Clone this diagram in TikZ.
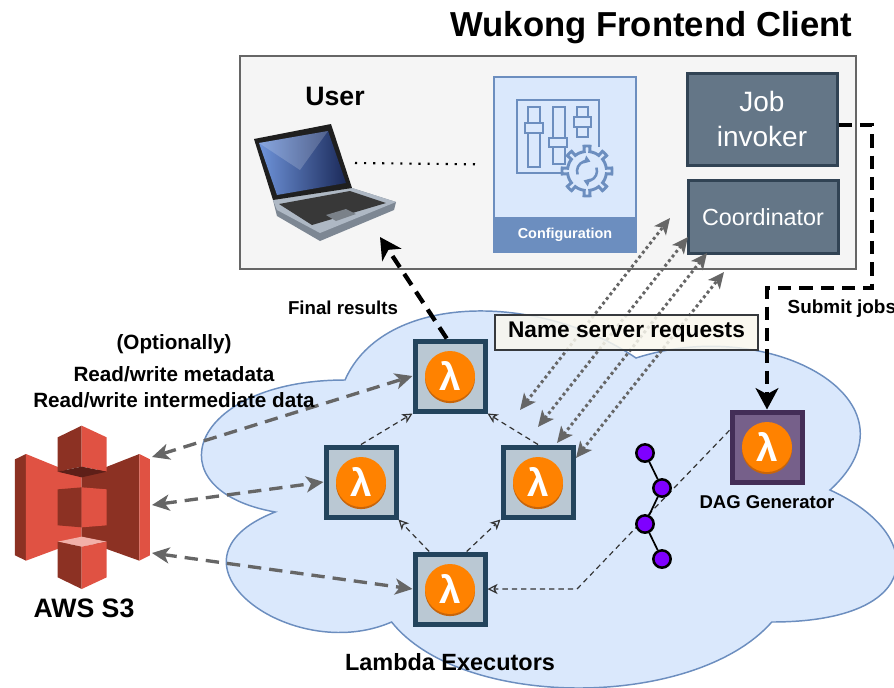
\documentclass[tikz,border=0pt]{standalone}
\usepackage{fontspec}
\setmainfont{Liberation Sans}
\newfontfamily\lamfam{Liberation Sans}
\usetikzlibrary{arrows.meta,shadows}

\definecolor{frontfill}{HTML}{F5F5F5}
\definecolor{frontline}{HTML}{666666}
\definecolor{cfgfill}{HTML}{DAE8FC}
\definecolor{cfgline}{HTML}{6C8EBF}
\definecolor{jobfill}{HTML}{647687}
\definecolor{jobline}{HTML}{314354}
\definecolor{lbfill}{HTML}{BAC8D3}
\definecolor{lbline}{HTML}{23445D}
\definecolor{dagfill}{HTML}{76608A}
\definecolor{dagline}{HTML}{432D57}
\definecolor{lamorange}{HTML}{FF8200}
\definecolor{lamshade}{HTML}{C8650A}
\definecolor{dotpurple}{HTML}{7F00FF}
\definecolor{nsfill}{HTML}{F9F7ED}
\definecolor{nsline}{HTML}{36393D}
\definecolor{arrgray}{HTML}{666666}
\definecolor{thinline}{HTML}{333333}
\definecolor{s3light}{HTML}{E05243}
\definecolor{s3dark}{HTML}{8C3123}
\definecolor{s3under}{HTML}{5E1F18}
\definecolor{s3top}{HTML}{F2B0A9}
\definecolor{lapbase}{HTML}{AEB8C4}
\definecolor{lapedge}{HTML}{7D8793}
\definecolor{dispdark}{HTML}{1B2A5A}
\definecolor{displight}{HTML}{6F94DA}

\begin{document}
\begin{tikzpicture}[x=0.75pt,y=-0.75pt,
  lbox/.style={draw=lbline, fill=lbfill, line width=3.75pt, minimum size=52.5pt, inner sep=0pt},
  dbox/.style={lbox, draw=dagline, fill=dagfill},
  lamic/.style={circle, fill=lamorange, minimum size=37.5pt, inner sep=0pt, text=white,
    font=\lamfam\bfseries\fontsize{29}{29}\selectfont,
    drop shadow={shadow xshift=0pt, shadow yshift=-1.6pt, fill=lamshade, opacity=1}},
  ddot/.style={circle, draw=black, fill=dotpurple, line width=1.9pt, minimum size=13pt, inner sep=0pt},
  jbox/.style={draw=jobline, fill=jobfill, line width=2.25pt, text=white, inner sep=0pt},
  grayio/.style={draw=arrgray, line width=2.5pt, dash pattern=on 10pt off 6pt,
    >={Stealth[length=13pt,width=12pt,inset=3.5pt]}, <->},
  nsio/.style={draw=arrgray, line width=2.2pt, dash pattern=on 2.2pt off 2.2pt,
    >={Stealth[length=12pt,width=11pt,inset=3pt]}, <->},
  thinarr/.style={draw=thinline, line width=0.9pt, dash pattern=on 4pt off 3pt,
    -{Stealth[open,length=7.5pt,width=7.5pt,inset=2pt]}},
  blackarr/.style={draw=black, line width=3.2pt, dash pattern=on 10pt off 6pt,
    -{Stealth[length=16pt,width=17pt,inset=4.5pt]}},
  lbl/.style={font=\bfseries\fontsize{#1}{#1}\selectfont},
]
\clip (0,0) rectangle (894,687);

% ---------------- frontend client ----------------
\node[anchor=base east, lbl=26] (title) at (857,36) {Wukong Frontend Client};
\node[draw=frontline, fill=frontfill, line width=1.9pt, minimum width=462pt, minimum height=159.75pt] (front) at (548,162.5) {};
\node[anchor=base, lbl=20] (user) at (335,105) {User};

% laptop
\fill[lapedge] (273,200) -- (352,188) -- (396,202) -- (394,210) -- (320,241) -- (277,216) -- cycle;
\fill[lapbase] (273,200) -- (352,188) -- (396,202) -- (320,233) -- (277,210) -- cycle;
\fill[black!78] (279,204) -- (350,191) -- (386,203) -- (312,225) -- cycle;
\fill[lapbase!70!black] (326,215) -- (346,209) -- (356,214) -- (336,221) -- cycle;
\fill[black!88] (254,139) -- (331,124) -- (352,188) -- (273,200) -- cycle;
\shade[left color=displight, right color=dispdark] (259,143) -- (328,131) -- (346,183) -- (277,195) -- cycle;
\fill[white, opacity=0.18] (259,143) -- (328,131) -- (300,170) -- cycle;
\coordinate (lapr) at (355,163);
\coordinate (lapin) at (380,237);

% configuration
\node[draw=cfgline, fill=cfgfill, line width=1.1pt, minimum width=106.5pt, minimum height=131.25pt] (cfg) at (565,164.5) {};
\node[fill=cfgline, minimum width=106.5pt, minimum height=26.25pt, text=white, lbl=10.8] (cfgbar) at (565,234.5) {Configuration};
\begin{scope}[cfgline, line width=2.2pt]
  \draw (599,147) -- (599,100) -- (517,100) -- (517,173) -- (563,173);
  \draw[fill=cfgfill] (528,107) rectangle (540,167);
  \draw[fill=cfgfill] (525,123) rectangle (543,133);
  \draw[fill=cfgfill] (553,107) rectangle (565,164);
  \draw[fill=cfgfill] (549,138) rectangle (567,147);
  \draw[fill=cfgfill] (577,107) rectangle (588,137);
  \draw[fill=cfgfill] (574,117) rectangle (591,127);
  \draw[fill=cfgfill] plot[domain=0:360, samples=361, variable=\t]
    ({587+(19.5+5.5*(cos(8*\t)>0.45))*cos(\t)}, {171+(19.5+5.5*(cos(8*\t)>0.45))*sin(\t)}) -- cycle;
  \draw[line width=1.9pt, -{Triangle[length=4.5pt,width=6pt]}] (587,171) ++(160:10) arc[start angle=160, end angle=290, radius=10];
  \draw[line width=1.9pt, -{Triangle[length=4.5pt,width=6pt]}] (587,171) ++(-20:10) arc[start angle=-20, end angle=110, radius=10];
\end{scope}
\draw[line width=1.6pt, dash pattern=on 1.6pt off 5.2pt] (lapr) -- (cfg.west) [shorten >=10pt];

% job invoker and coordinator
\node[jbox, minimum width=112.5pt, minimum height=69pt, align=center, font=\fontsize{21}{26}\selectfont] (job) at (762,119) {Job\\invoker};
\node[jbox, minimum width=112.5pt, minimum height=54.75pt, font=\fontsize{17.5}{20}\selectfont] (coord) at (763,217) {Coordinator};

% ---------------- lambda cloud ----------------
\draw[draw=cfgline, fill=cfgfill, line width=1.1pt]
  (345,380) .. controls (189.8,380) and (151,490) .. (275.2,512)
  .. controls (151,560.4) and (290.7,666) .. (391.6,622)
  .. controls (461.4,710) and (694.2,710) .. (771.8,622)
  .. controls (927,622) and (927,534) .. (830,490)
  .. controls (927,402) and (771.8,314) .. (636,358)
  .. controls (539,292) and (383.8,292) .. (345,380) -- cycle;

% lambda executors
\node[lbox] (ltop) at (450,376) {};
\node[lbox] (lleft) at (361,482) {};
\node[lbox] (lright) at (538,482) {};
\node[lbox] (lbot) at (450,589) {};
\node[dbox] (dag) at (767,447) {};
\node[lamic] (ltop-ic) at (ltop) {λ};
\node[lamic] (lleft-ic) at (lleft) {λ};
\node[lamic] (lright-ic) at (lright) {λ};
\node[lamic] (lbot-ic) at (lbot) {λ};
\node[lamic] (dag-ic) at (dag) {λ};

% executor dependencies
\draw[thinarr] (lbot.119) -- (lleft.south east);
\draw[thinarr] (lbot.66) -- (lright.south west);
\draw[thinarr] (lleft.north) -- (ltop.south west);
\draw[thinarr] (lright.north) -- (ltop.south east);
\coordinate (dagbend) at (577,589);
\draw[thinarr] (dag.156) -- (dagbend) -- (lbot.east);

% small DAG
\node[ddot] (d1) at (645,453) {};
\node[ddot] (d2) at (662,488) {};
\node[ddot] (d3) at (645,524) {};
\node[ddot] (d4) at (662,559) {};
\draw[line width=1.3pt] (d1) -- (d2) -- (d3) -- (d4);

% ---------------- S3 ----------------
\begin{scope}[shift={(0,400)}, scale=1/3]
  \fill[s3dark] (45,178) -- (78,162) -- (78,482) -- (45,466) -- cycle;
  \fill[s3light] (78,162) -- (245,230) -- (245,420) -- (78,482) -- cycle;
  \fill[s3dark] (245,230) -- (418,162) -- (418,482) -- (245,420) -- cycle;
  \fill[s3light] (418,162) -- (450,178) -- (450,466) -- (418,482) -- cycle;
  % top block
  \fill[s3dark] (173,112) -- (245,77) -- (245,200) -- (173,215) -- cycle;
  \fill[s3light] (245,77) -- (320,112) -- (320,215) -- (245,200) -- cycle;
  \fill[s3under] (173,215) -- (245,200) -- (320,215) -- (245,232) -- cycle;
  % middle block
  \fill[s3dark] (173,268) -- (245,262) -- (245,382) -- (173,376) -- cycle;
  \fill[s3light] (245,262) -- (320,268) -- (320,376) -- (245,382) -- cycle;
  % bottom block
  \fill[s3top] (173,425) -- (245,410) -- (320,425) -- (245,440) -- cycle;
  \fill[s3dark] (173,425) -- (245,440) -- (245,567) -- (173,532) -- cycle;
  \fill[s3light] (245,440) -- (320,425) -- (320,532) -- (245,567) -- cycle;
\end{scope}
\coordinate (s3a) at (152,457);
\coordinate (s3b) at (152,505);
\coordinate (s3c) at (152,553);
\node[anchor=base, lbl=20] (s3lbl) at (84,617) {AWS S3};

\draw[grayio] (s3a) -- (ltop.west);
\draw[grayio] (s3b) -- (lleft.west);
\draw[grayio] (s3c) -- (lbot.west);

% ---------------- name server requests ----------------
\coordinate (t1) at (670,218);
\coordinate (t2) at (688,237);
\coordinate (t3) at (707,253);
\coordinate (t4) at (724,272);
\coordinate (b1) at (520,410);
\coordinate (b2) at (538,427);
\coordinate (b3) at (557,443);
\coordinate (b4) at (576,458);
\draw[nsio] (b1) -- (t1);
\draw[nsio] (b2) -- (t2);
\draw[nsio] (b3) -- (t3);
\draw[nsio] (b4) -- (t4);
\node[draw=nsline, fill=nsfill, fill opacity=0.85, text opacity=1, line width=1.1pt,
  minimum width=197pt, minimum height=26.25pt, lbl=17] (ns) at (626.5,332.5) {Name server requests};

% ---------------- results and job submission ----------------
\draw[blackarr] (ltop.95) -- (lapin);
\coordinate (sj1) at (872,125);
\coordinate (sj2) at (872,288);
\coordinate (sj3) at (767,288);
\draw[blackarr] ([yshift=-4.5pt]job.east) -- (sj1) -- (sj2) -- (sj3) -- (dag.north);

% ---------------- labels ----------------
\node[anchor=base, lbl=14] (finlbl) at (343,314) {Final results};
\node[anchor=base west, lbl=14.2] (sublbl) at (783,313) {Submit jobs};
\node[anchor=base, lbl=15.5] (opt) at (174,349) {(Optionally)};
\node[anchor=base, lbl=15.5] (rwm) at (174,381) {Read/write metadata};
\node[anchor=base, lbl=15.5] (rwi) at (174,407) {Read/write intermediate data};
\node[anchor=base, lbl=13.9] (daglbl) at (767,508) {DAG Generator};
\node[anchor=base, lbl=17.6] (lamlbl) at (450,670) {Lambda Executors};
\end{tikzpicture}
\end{document}
